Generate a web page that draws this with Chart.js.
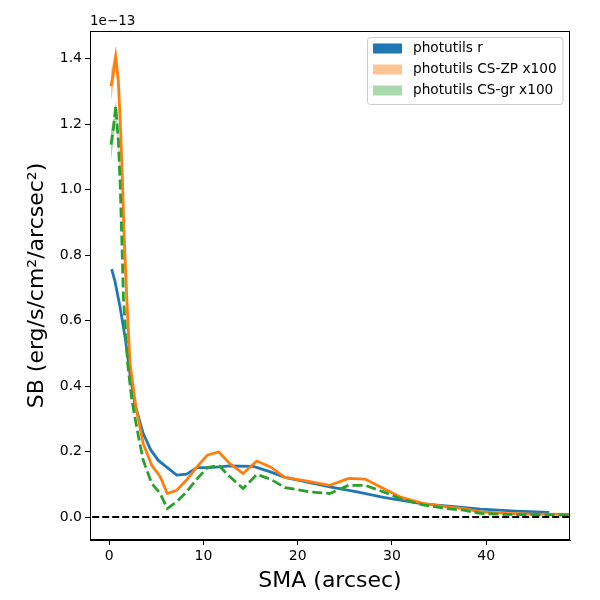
<!DOCTYPE html>
<html>
<head>
<meta charset="utf-8">
<script src="https://cdn.jsdelivr.net/npm/chart.js@4.4.1/dist/chart.umd.min.js"></script>
<style>
  body { margin: 0; background: #fff; }
  #wrap { width: 600px; height: 600px; }
</style>
</head>
<body>
<div id="wrap"><canvas id="sbChart"></canvas></div>
<script>

// surface brightness profiles, values in units of 1e-13
const smaR = [0.25, 0.6, 1.15, 1.67, 2.2, 2.7, 3.6, 4.4, 5.2, 7.15, 8.2, 9.3, 10.7, 12.8, 15.3, 17.1, 18.65, 23.4, 26.3, 29.1, 31.2, 33.3, 36.9, 39.4, 43.2, 46.7];
const sbR  = [0.757, 0.72, 0.64, 0.55, 0.437, 0.346, 0.255, 0.205, 0.173, 0.128, 0.131, 0.151, 0.151, 0.156, 0.155, 0.138, 0.121, 0.092, 0.077, 0.060, 0.050, 0.040, 0.031, 0.024, 0.018, 0.014];

const smaZP = [0.18, 0.45, 0.68, 0.96, 1.2, 1.4, 1.55, 1.85, 2.2, 2.8, 3.6, 4.5, 5.4, 6.15, 7.15, 8.2, 9.3, 10.4, 11.6, 12.8, 14.2, 15.65, 17.1, 18.65, 21.3, 23.4, 25.4, 27.15, 29.1, 31.0, 33.3, 35.8, 37.6, 39.4, 42.2, 45.0, 49.5];
const sbZP  = [1.315, 1.36, 1.405, 1.33, 1.18, 1.026, 0.874, 0.67, 0.468, 0.34, 0.224, 0.158, 0.123, 0.072, 0.082, 0.113, 0.153, 0.189, 0.199, 0.163, 0.133, 0.171, 0.153, 0.121, 0.108, 0.097, 0.118, 0.116, 0.087, 0.060, 0.042, 0.031, 0.026, 0.016, 0.011, 0.009, 0.008];

const smaGR = [0.18, 0.45, 0.68, 0.96, 1.14, 1.3, 1.5, 1.95, 2.38, 2.9, 3.6, 4.5, 5.4, 6.15, 7.15, 8.2, 9.3, 10.4, 11.6, 12.8, 14.2, 15.65, 17.1, 18.65, 21.3, 23.4, 25.4, 27.15, 29.1, 31.0, 33.3, 35.8, 37.6, 39.4, 42.2, 49.5];
const sbGR  = [1.137, 1.19, 1.254, 1.148, 1.026, 0.874, 0.67, 0.468, 0.36, 0.275, 0.173, 0.103, 0.072, 0.026, 0.047, 0.077, 0.116, 0.151, 0.158, 0.123, 0.087, 0.130, 0.116, 0.090, 0.077, 0.072, 0.097, 0.097, 0.077, 0.055, 0.037, 0.026, 0.021, 0.011, 0.008, 0.006];

// error bands, only wide enough to see near the centre
const bandSma = [0.18, 0.45, 0.68, 0.96, 1.2];
const zpLow   = [1.27, 1.32, 1.37, 1.31, 1.17];
const zpHigh  = [1.36, 1.40, 1.43, 1.35, 1.19];
const grLow   = [1.09, 1.15, 1.22, 1.12, 0.98];
const grHigh  = [1.18, 1.22, 1.27, 1.17, 1.03];

const xTicks = [0, 10, 20, 30, 40];
const yTicks = [0.0, 0.2, 0.4, 0.6, 0.8, 1.0, 1.2, 1.4];
const zeroLine = [-5, 55];

const labels = ['photutils r', 'photutils CS-ZP x100', 'photutils CS-gr x100'];

const BLUE = '#1f77b4';
const ORANGE = '#ff7f0e';
const GREEN = '#2ca02c';
const ORANGE_FILL = 'rgba(255,127,14,0.45)';
const GREEN_FILL = 'rgba(44,160,44,0.4)';

function pts(xs, ys) {
    return xs.map((x, i) => ({ x: x, y: ys[i] }));
}

const FONT = '"DejaVu Sans", sans-serif';

// frame, offset text and the legend box
const extrasPlugin = {
    id: 'extras',
    afterDraw(chart) {
        const ctx = chart.ctx;
        const a = chart.chartArea;
        ctx.save();
        ctx.strokeStyle = '#000';
        ctx.lineWidth = 1;
        ctx.strokeRect(a.left + 0.5, a.top + 0.5, a.right - a.left - 1, a.bottom - a.top - 1);

        ctx.fillStyle = '#000';
        ctx.font = '13.5px ' + FONT;
        ctx.textAlign = 'left';
        ctx.textBaseline = 'alphabetic';
        ctx.fillText('1e\u221213', a.left, a.top - 6);

        // legend
        const lx = 367.5, ly = 37.5, lw = 195.5, lh = 67;
        ctx.fillStyle = 'rgba(255,255,255,0.8)';
        ctx.strokeStyle = '#cccccc';
        ctx.beginPath();
        ctx.roundRect(lx, ly, lw, lh, 3);
        ctx.fill();
        ctx.stroke();

        const swatch = [BLUE, ORANGE_FILL, GREEN_FILL];
        const rows = [48.5, 69.5, 90.5];
        ctx.font = '13.7px ' + FONT;
        ctx.textBaseline = 'middle';
        rows.forEach((cy, i) => {
            ctx.fillStyle = swatch[i];
            ctx.fillRect(373, cy - 5, 29, 10);
            ctx.fillStyle = '#000';
            ctx.fillText(labels[i], 413, cy);
        });
        ctx.restore();
    }
};

const ctx = document.getElementById('sbChart').getContext('2d');

new Chart(ctx, {
    type: 'line',
    data: {
        datasets: [
            {
                label: 'zp low', data: pts(bandSma, zpLow),
                borderWidth: 0, pointRadius: 0, fill: false, order: 6
            },
            {
                label: 'zp high', data: pts(bandSma, zpHigh),
                borderWidth: 0, pointRadius: 0, fill: '-1',
                backgroundColor: ORANGE_FILL, order: 6
            },
            {
                label: 'gr low', data: pts(bandSma, grLow),
                borderWidth: 0, pointRadius: 0, fill: false, order: 5
            },
            {
                label: 'gr high', data: pts(bandSma, grHigh),
                borderWidth: 0, pointRadius: 0, fill: '-1',
                backgroundColor: GREEN_FILL, order: 5
            },
            {
                label: labels[0], data: pts(smaR, sbR),
                borderColor: BLUE, borderWidth: 2.8, pointRadius: 0,
                fill: false, tension: 0, order: 3
            },
            {
                label: labels[1], data: pts(smaZP, sbZP),
                borderColor: ORANGE, borderWidth: 2.8, pointRadius: 0,
                fill: false, tension: 0, order: 2
            },
            {
                label: labels[2], data: pts(smaGR, sbGR),
                borderColor: GREEN, borderWidth: 2.8, pointRadius: 0,
                borderDash: [10, 4], fill: false, tension: 0, order: 1
            },
            {
                label: 'zero', data: pts(zeroLine, [0, 0]),
                borderColor: '#000', borderWidth: 2, pointRadius: 0,
                borderDash: [7, 3], fill: false, order: 0
            }
        ]
    },
    options: {
        responsive: true,
        maintainAspectRatio: false,
        animation: false,
        layout: { padding: { top: 31, right: 30, left: 0, bottom: 0 } },
        plugins: {
            legend: { display: false },
            tooltip: { enabled: false }
        },
        scales: {
            x: {
                type: 'linear',
                min: -2.05,
                max: 48.9,
                afterBuildTicks: (scale) => { scale.ticks = xTicks.map(v => ({ value: v })); },
                afterFit: (scale) => { scale.height = 60; },
                grid: { drawOnChartArea: false, drawTicks: true, tickLength: 5, color: '#000' },
                border: { color: '#000', width: 1 },
                ticks: { color: '#000', font: { size: 14, family: FONT }, padding: 3, maxRotation: 0 },
                title: {
                    display: true, text: 'SMA (arcsec)', color: '#000',
                    font: { size: 22, family: FONT }, padding: { top: 2, bottom: 6 }
                }
            },
            y: {
                type: 'linear',
                min: -0.07,
                max: 1.484,
                afterBuildTicks: (scale) => { scale.ticks = yTicks.map(v => ({ value: v })); },
                afterFit: (scale) => { scale.width = 90; },
                grid: { drawOnChartArea: false, drawTicks: true, tickLength: 5, color: '#000' },
                border: { color: '#000', width: 1 },
                ticks: {
                    color: '#000', font: { size: 14, family: FONT }, padding: 3,
                    callback: (v) => Number(v).toFixed(1)
                },
                title: {
                    display: true, text: 'SB (erg/s/cm\u00b2/arcsec\u00b2)', color: '#000',
                    font: { size: 22, family: FONT }, padding: { top: 24, bottom: 0 }
                }
            }
        }
    },
    plugins: [extrasPlugin]
});
</script>
</body>
</html>
